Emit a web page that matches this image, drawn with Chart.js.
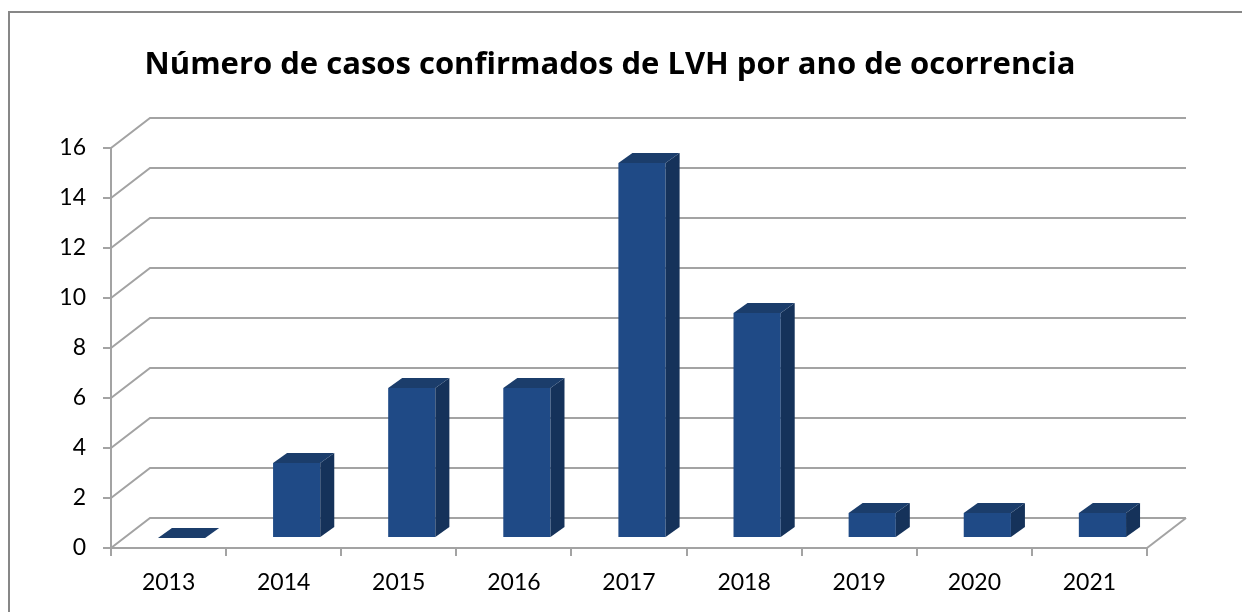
<!DOCTYPE html>
<html>
<head>
<meta charset="utf-8">
<script src="https://cdn.jsdelivr.net/npm/chart.js@4"></script>
<style>
body{margin:0;background:#fff;overflow:hidden}
#frame{position:absolute;left:8px;top:11px;width:1400px;height:800px;border:2px solid #878787}
#wrap{position:absolute;left:0;top:0;width:1242px;height:612px}
</style>
</head>
<body>
<div id="frame"></div>
<div id="wrap"><canvas id="casosChart" width="1242" height="612"></canvas></div>
<script>
let titulo = "Número de casos confirmados de LVH por ano de ocorrencia"
let anos = ["2013","2014","2015","2016","2017","2018","2019","2020","2021"]
let casos = [0,3,6,6,15,9,1,1,1]
let yTicks = [0,2,4,6,8,10,12,14,16]

// depth of the walls and of the bars
let wallDX = 39, wallDY = -30
let barShiftX = 13, barShiftY = -10
let barDX = 14, barDY = -10
let lineGray = "#a3a3a3"

let walls3d = {
id:"walls3d",
beforeDatasetsDraw(chart){
let ctx = chart.ctx
let area = chart.chartArea
let y = chart.scales.y
ctx.save()
ctx.strokeStyle = lineGray
ctx.lineWidth = 2
yTicks.forEach(v=>{
let py = y.getPixelForValue(v)
ctx.beginPath()
ctx.moveTo(area.left,py)
ctx.lineTo(area.left+wallDX,py+wallDY)
ctx.lineTo(area.right+wallDX,py+wallDY)
ctx.stroke()
})
// right edge of the floor
ctx.beginPath()
ctx.moveTo(area.right,area.bottom)
ctx.lineTo(area.right+wallDX,area.bottom+wallDY)
ctx.stroke()
ctx.restore()
// bars sit in the middle of the depth
ctx.save()
ctx.translate(barShiftX,barShiftY)
},
afterDatasetsDraw(chart){
let ctx = chart.ctx
let meta = chart.getDatasetMeta(0)
meta.data.forEach(bar=>{
let p = bar.getProps(["x","y","base","width"],true)
let l = p.x-p.width/2, r = p.x+p.width/2
// side face
ctx.fillStyle = "#15325a"
ctx.beginPath()
ctx.moveTo(r,p.y)
ctx.lineTo(r+barDX,p.y+barDY)
ctx.lineTo(r+barDX,p.base+barDY)
ctx.lineTo(r,p.base)
ctx.closePath()
ctx.fill()
// top face
ctx.fillStyle = "#1b3d6b"
ctx.beginPath()
ctx.moveTo(l,p.y)
ctx.lineTo(l+barDX,p.y+barDY)
ctx.lineTo(r+barDX,p.y+barDY)
ctx.lineTo(r,p.y)
ctx.closePath()
ctx.fill()
})
ctx.restore()
},
afterDraw(chart){
let ctx = chart.ctx
ctx.save()
ctx.fillStyle = "#000"
ctx.font = "bold 31px 'Open Sans'"
ctx.textAlign = "center"
ctx.textBaseline = "alphabetic"
ctx.fillText(titulo,610,74)
ctx.restore()
}
}

let chart = new Chart(document.getElementById("casosChart"),{
type:"bar",
data:{
labels:anos,
datasets:[{
data:casos,
backgroundColor:"#1f4a86",
borderWidth:0,
categoryPercentage:1,
barPercentage:0.41
}]
},
options:{
responsive:false,
animation:false,
layout:{padding:{left:0,right:95,top:148,bottom:0}},
plugins:{
legend:{display:false},
tooltip:{enabled:false},
title:{display:false}
},
scales:{
x:{
grid:{drawOnChartArea:false,drawTicks:true,tickLength:8,color:lineGray,lineWidth:2,offset:true},
border:{display:true,color:lineGray,width:2},
ticks:{color:"#000",font:{family:"Lato",size:23},padding:13,maxRotation:0,autoSkip:false},
afterFit(scale){scale.height = 64}
},
y:{
min:0,
max:16,
afterBuildTicks(scale){scale.ticks = yTicks.map(v=>({value:v}))},
grid:{drawOnChartArea:false,drawTicks:true,tickLength:8,color:lineGray,lineWidth:2},
border:{display:true,color:lineGray,width:2},
ticks:{color:"#000",font:{family:"Lato",size:23},padding:17},
afterFit(scale){scale.width = 111}
}
}
},
plugins:[walls3d]
})
</script>
</body>
</html>
